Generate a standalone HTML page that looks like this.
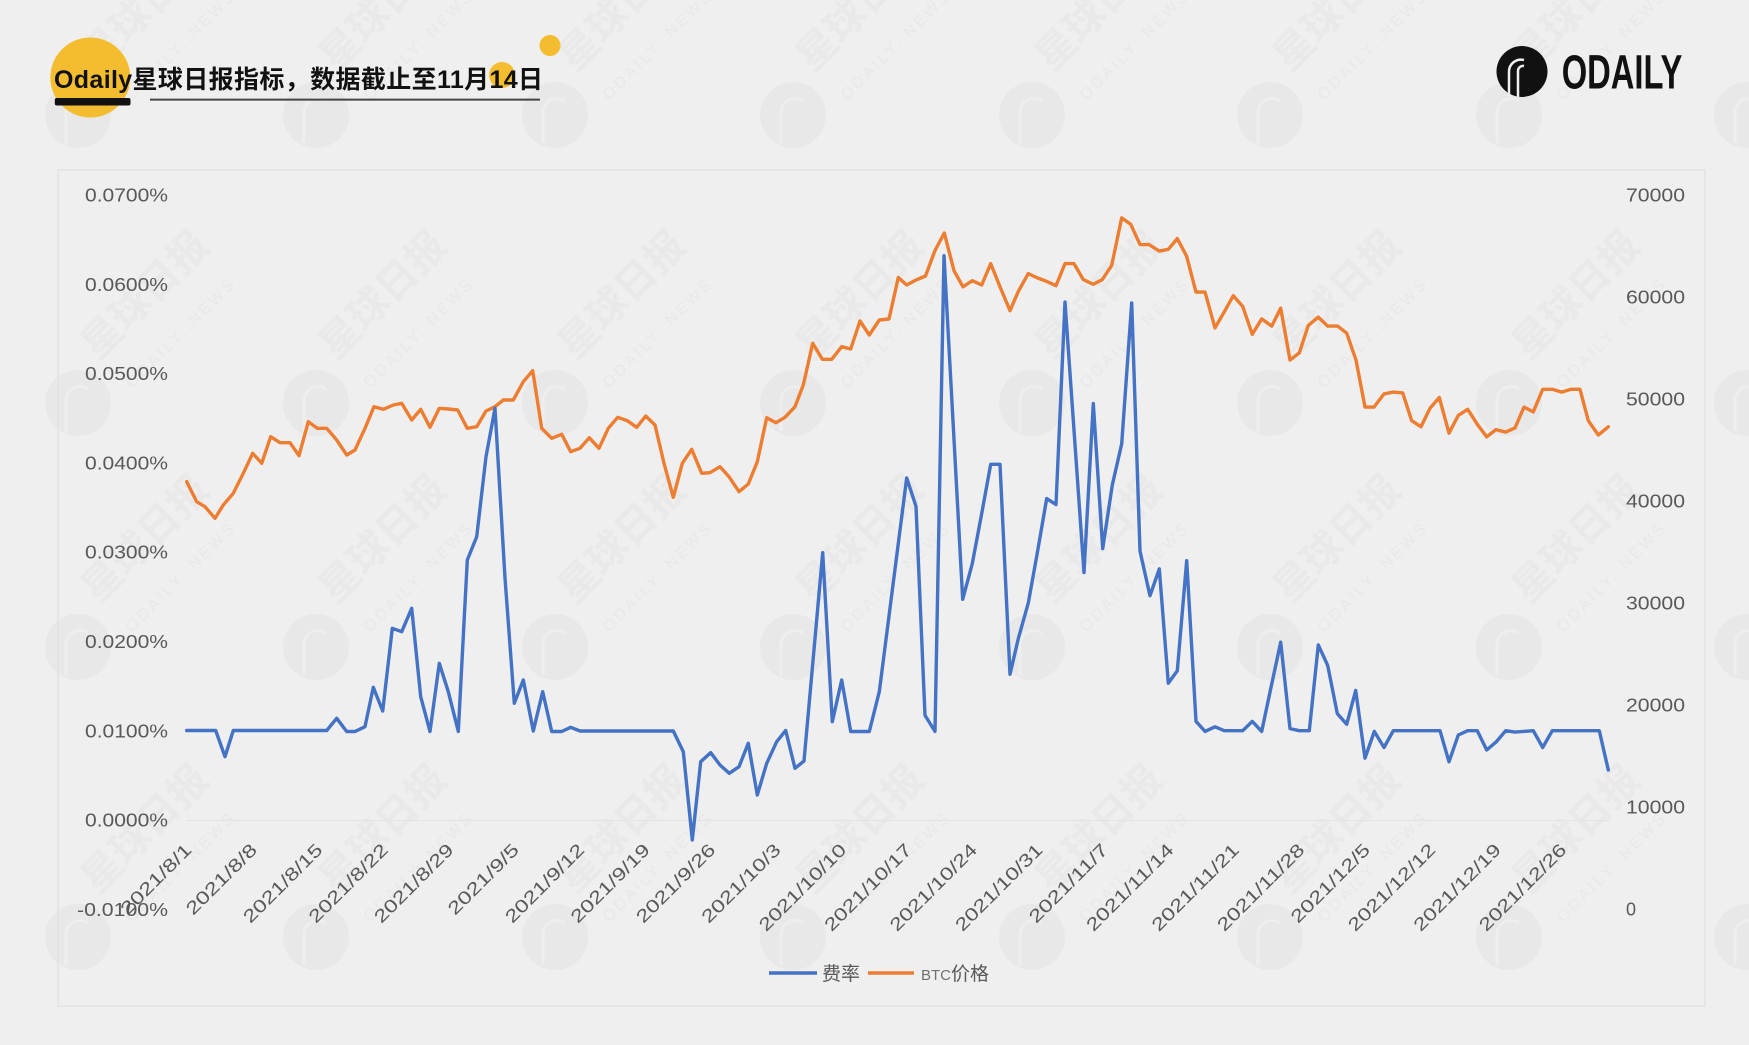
<!DOCTYPE html>
<html>
<head>
<meta charset="utf-8">
<style>
html,body{margin:0;padding:0;background:#EFEFEF;}
svg{display:block;}
</style>
</head>
<body>
<svg width="1749" height="1045" viewBox="0 0 1749 1045" xmlns="http://www.w3.org/2000/svg">
<rect x="0" y="0" width="1749" height="1045" fill="#EFEFEF"/>

<!-- watermarks -->
<defs>
<g id="wm">
  <circle cx="0" cy="0" r="33" fill="#E8E8E8"/>
  <path d="M-12 28 V-2 A14 14 0 0 1 10 -14" fill="none" stroke="#EEEEEE" stroke-width="3"/>
  <text transform="translate(20,-42) rotate(-45)" font-family="'Liberation Sans','Noto Sans CJK SC',sans-serif" font-weight="bold" font-size="40" fill="#E9E9E9">星球日报</text>
  <text transform="translate(54,-14) rotate(-45)" font-family="'Liberation Sans',sans-serif" font-size="16" fill="#E8E8E8" letter-spacing="3">ODAILY. NEWS</text>
</g>
</defs>
<g>
  <use href="#wm" x="78" y="115"/><use href="#wm" x="316" y="115"/><use href="#wm" x="555" y="115"/><use href="#wm" x="793" y="115"/><use href="#wm" x="1032" y="115"/><use href="#wm" x="1270" y="115"/><use href="#wm" x="1509" y="115"/><use href="#wm" x="1747" y="115"/>
  <use href="#wm" x="78" y="403"/><use href="#wm" x="316" y="403"/><use href="#wm" x="555" y="403"/><use href="#wm" x="793" y="403"/><use href="#wm" x="1032" y="403"/><use href="#wm" x="1270" y="403"/><use href="#wm" x="1509" y="403"/><use href="#wm" x="1747" y="403"/>
  <use href="#wm" x="78" y="647"/><use href="#wm" x="316" y="647"/><use href="#wm" x="555" y="647"/><use href="#wm" x="793" y="647"/><use href="#wm" x="1032" y="647"/><use href="#wm" x="1270" y="647"/><use href="#wm" x="1509" y="647"/><use href="#wm" x="1747" y="647"/>
  <use href="#wm" x="78" y="937"/><use href="#wm" x="316" y="937"/><use href="#wm" x="555" y="937"/><use href="#wm" x="793" y="937"/><use href="#wm" x="1032" y="937"/><use href="#wm" x="1270" y="937"/><use href="#wm" x="1509" y="937"/><use href="#wm" x="1747" y="937"/>
</g>

<!-- header -->
<circle cx="90.3" cy="77.5" r="40" fill="#F4BD30"/>
<circle cx="550" cy="45.5" r="10.5" fill="#F4BD30"/>
<circle cx="502" cy="75" r="13" fill="#F4BD30"/>
<rect x="54.8" y="98" width="75.7" height="7.5" rx="2" fill="#111"/>
<line x1="150" y1="99.6" x2="540" y2="99.6" stroke="#444" stroke-width="2"/>
<text x="54" y="88" font-family="'Liberation Sans','Noto Sans CJK SC',sans-serif" font-weight="bold" font-size="25" fill="#111" textLength="489" lengthAdjust="spacing">Odaily星球日报指标，数据截止至11月14日</text>

<!-- ODAILY logo -->
<circle cx="1522" cy="71.5" r="25.5" fill="#111"/>
<path d="M1509 96 V72 A12 12 0 0 1 1524 60" fill="none" stroke="#EFEFEF" stroke-width="2.5"/>
<path d="M1518 97 V71 A5 5 0 0 1 1524 66" fill="none" stroke="#EFEFEF" stroke-width="2.5"/>
<text x="1561.7" y="88.3" font-family="'Liberation Sans',sans-serif" font-weight="bold" font-size="48" fill="#111" textLength="120.6" lengthAdjust="spacingAndGlyphs">ODAILY</text>

<!-- chart frame -->
<rect x="58" y="170" width="1647" height="836" fill="none" stroke="#E2E2E2" stroke-width="1.5"/>
<line x1="186" y1="820.5" x2="1610" y2="820.5" stroke="#E4E4E4" stroke-width="1.2"/>

<!-- left axis labels -->
<g font-family="'Liberation Sans',sans-serif" font-size="18" fill="#595959" text-anchor="end">
  <text x="168" y="201.5" textLength="83" lengthAdjust="spacingAndGlyphs">0.0700%</text>
  <text x="168" y="290.8" textLength="83" lengthAdjust="spacingAndGlyphs">0.0600%</text>
  <text x="168" y="380.1" textLength="83" lengthAdjust="spacingAndGlyphs">0.0500%</text>
  <text x="168" y="469.4" textLength="83" lengthAdjust="spacingAndGlyphs">0.0400%</text>
  <text x="168" y="558.7" textLength="83" lengthAdjust="spacingAndGlyphs">0.0300%</text>
  <text x="168" y="648" textLength="83" lengthAdjust="spacingAndGlyphs">0.0200%</text>
  <text x="168" y="737.3" textLength="83" lengthAdjust="spacingAndGlyphs">0.0100%</text>
  <text x="168" y="826.6" textLength="83" lengthAdjust="spacingAndGlyphs">0.0000%</text>
  <text x="168" y="915.9" textLength="91" lengthAdjust="spacingAndGlyphs">-0.0100%</text>
</g>

<!-- right axis labels -->
<g font-family="'Liberation Sans',sans-serif" font-size="18" fill="#595959">
  <text x="1626" y="201.5" textLength="59" lengthAdjust="spacingAndGlyphs">70000</text>
  <text x="1626" y="303.5" textLength="59" lengthAdjust="spacingAndGlyphs">60000</text>
  <text x="1626" y="405.5" textLength="59" lengthAdjust="spacingAndGlyphs">50000</text>
  <text x="1626" y="507.5" textLength="59" lengthAdjust="spacingAndGlyphs">40000</text>
  <text x="1626" y="609.5" textLength="59" lengthAdjust="spacingAndGlyphs">30000</text>
  <text x="1626" y="711.5" textLength="59" lengthAdjust="spacingAndGlyphs">20000</text>
  <text x="1626" y="813.5" textLength="59" lengthAdjust="spacingAndGlyphs">10000</text>
  <text x="1626" y="915.5">0</text>
</g>

<!-- x axis labels -->
<g font-family="'Liberation Sans',sans-serif" font-size="18" fill="#595959" text-anchor="end">
  <text transform="translate(192.7,851) rotate(-45)" textLength="92" lengthAdjust="spacingAndGlyphs">2021/8/1</text>
  <text transform="translate(258.2,851) rotate(-45)" textLength="92" lengthAdjust="spacingAndGlyphs">2021/8/8</text>
  <text transform="translate(323.6,851) rotate(-45)" textLength="103.5" lengthAdjust="spacingAndGlyphs">2021/8/15</text>
  <text transform="translate(389.1,851) rotate(-45)" textLength="103.5" lengthAdjust="spacingAndGlyphs">2021/8/22</text>
  <text transform="translate(454.6,851) rotate(-45)" textLength="103.5" lengthAdjust="spacingAndGlyphs">2021/8/29</text>
  <text transform="translate(520.1,851) rotate(-45)" textLength="92" lengthAdjust="spacingAndGlyphs">2021/9/5</text>
  <text transform="translate(585.5,851) rotate(-45)" textLength="103.5" lengthAdjust="spacingAndGlyphs">2021/9/12</text>
  <text transform="translate(651,851) rotate(-45)" textLength="103.5" lengthAdjust="spacingAndGlyphs">2021/9/19</text>
  <text transform="translate(716.5,851) rotate(-45)" textLength="103.5" lengthAdjust="spacingAndGlyphs">2021/9/26</text>
  <text transform="translate(781.9,851) rotate(-45)" textLength="103.5" lengthAdjust="spacingAndGlyphs">2021/10/3</text>
  <text transform="translate(847.4,851) rotate(-45)" textLength="115" lengthAdjust="spacingAndGlyphs">2021/10/10</text>
  <text transform="translate(912.9,851) rotate(-45)" textLength="115" lengthAdjust="spacingAndGlyphs">2021/10/17</text>
  <text transform="translate(978.3,851) rotate(-45)" textLength="115" lengthAdjust="spacingAndGlyphs">2021/10/24</text>
  <text transform="translate(1043.8,851) rotate(-45)" textLength="115" lengthAdjust="spacingAndGlyphs">2021/10/31</text>
  <text transform="translate(1109.3,851) rotate(-45)" textLength="103.5" lengthAdjust="spacingAndGlyphs">2021/11/7</text>
  <text transform="translate(1174.8,851) rotate(-45)" textLength="115" lengthAdjust="spacingAndGlyphs">2021/11/14</text>
  <text transform="translate(1240.2,851) rotate(-45)" textLength="115" lengthAdjust="spacingAndGlyphs">2021/11/21</text>
  <text transform="translate(1305.7,851) rotate(-45)" textLength="115" lengthAdjust="spacingAndGlyphs">2021/11/28</text>
  <text transform="translate(1371.2,851) rotate(-45)" textLength="103.5" lengthAdjust="spacingAndGlyphs">2021/12/5</text>
  <text transform="translate(1436.6,851) rotate(-45)" textLength="115" lengthAdjust="spacingAndGlyphs">2021/12/12</text>
  <text transform="translate(1502.1,851) rotate(-45)" textLength="115" lengthAdjust="spacingAndGlyphs">2021/12/19</text>
  <text transform="translate(1567.6,851) rotate(-45)" textLength="115" lengthAdjust="spacingAndGlyphs">2021/12/26</text>
</g>

<!-- BTC price (orange) -->
<polyline fill="none" stroke="#ED7D31" stroke-width="3.4" stroke-linejoin="round" stroke-linecap="round" points="
186.7,481.7 196.7,501.7 205,506.7 215,518.3 223.3,505 233.3,493.3 243.3,473.3 252.7,453.3 261.7,463.3 270.7,436.7
280,442.7 290,442.7 299,455.7 308.3,421.7 317.3,428.3 326.7,428.3 336.7,440 346.7,455 355,450 365,428.3
374,406.7 383.3,409.3 393.3,405 401.7,403.3 411.7,420 420.7,409.3 430,427.3 439.3,408.3 448.3,409 457.7,410
467.3,428.3 476.7,426.7 486,411 495,406.7 503.3,400 513.3,400 523.3,381.7 532.7,370.7 541.7,428.3 551.7,438.3
561.7,434.3 570.7,451.7 580,448.3 589.3,437.7 599,448.3 608.3,428.3 617.7,417.3 627.3,420.7 636.7,427.3 645.7,416
655,425 664,463.3 673.3,497.3 682.3,463.3 691.7,449.3 701.7,473.3 710,472.7 720,466.7 729,476.7 739,491.7
748.3,484 757.3,461.7 766.7,417.7 776,422.7 785,417.3 795,406.7 803.3,385 812.7,343.3 822.3,359.3 831.7,359.3
841.7,346.7 850.7,349 860,321 869.3,335 879.3,320 889,319 898.3,277.5 906.7,285 916,280 925.5,276
935,250.5 944.3,233 954,270.7 963,286.8 972.3,280.7 981.7,285 990.7,263.6 1000,286.8 1010,310.7 1018.3,291.4
1028.3,273.6 1037.3,277.9 1046.7,281.4 1056,285.7 1065,263.6 1074,263.6 1083.3,279.6 1093.3,284.3 1102.3,279.6 1111.7,265.4
1121.7,217.9 1130.7,224.3 1140,244.6 1149,244.6 1159.3,251.1 1168.3,249.3 1177.3,238.6 1186.7,256.4 1196,292.1 1205,292.1
1215,327.9 1224.3,311.8 1233.3,295.7 1242.7,306.4 1252.3,334.3 1261.7,318.9 1271.7,326.1 1280.7,308.2 1290,360 1299.3,352.9
1308.3,325.4 1318.3,317.1 1327.7,326.1 1337.7,326.1 1346.7,333.2 1356,360 1365,407.1 1374,407.1 1384,393.9 1393.3,392.1
1402.7,392.9 1411.7,420.7 1421,426.8 1430,408.2 1439.3,397.5 1449,433.2 1458.3,415.4 1467.7,409.3 1477.3,424.3 1486.7,436.8
1496,429.6 1505.7,432.1 1515,427.9 1524,407.1 1533.3,411.8 1542.7,389.3 1552.3,389.3 1561.7,392.1 1571,389.3 1580,389.3
1588.3,420.7 1598.3,435 1608.3,426.8"/>

<!-- funding rate (blue) -->
<polyline fill="none" stroke="#4472C4" stroke-width="3.4" stroke-linejoin="round" stroke-linecap="round" points="
186.7,730.5 215.7,730.5 225,756.7 233.3,730.5 326.7,730.5 336.7,718.3 346.7,731.5 355,731.5 365,726.7 373.3,687.3
382.7,711 392.3,628.3 401.7,631.7 411.7,608.3 420.7,696.7 430,731.5 439.3,663.3 448.3,691.7 458.3,731.5 467.3,560
476.7,536.7 486,456.7 495,408.3 505,578 514.3,703.3 523.3,680 533.3,731 542.7,691.7 551.7,731.5 561.7,731.5
570.7,727.3 580,731 673.3,731 683.3,751.7 692.3,840 700.7,761.7 710.7,752.7 720,765 729.3,773.3 739,766.7
748.3,743.3 757.3,795 766.7,763.3 776.7,741.7 785.7,730.5 795,768.3 804,761 822.7,552.7 832.3,721.7 841.7,680
850.7,731.5 869.3,731.5 879.3,691.7 906.7,477.9 916,506.4 925,715.4 935,731.4 944,255.7 962.7,599.3 972.3,563.6
981.7,513.6 990.7,464.3 1000,464.3 1010,674.3 1018.3,638.6 1028.3,602.9 1037.3,552.9 1046.7,498.6 1056,504.6 1065,302.1
1084,572.5 1093.3,403.6 1102.7,548.6 1112.3,485 1121.7,443.9 1131.7,302.9 1140,551.1 1150,595.7 1159.3,568.9 1168.3,683.2
1177.3,670.7 1186.7,560.7 1196,721.4 1205,731.4 1215,726.8 1224.3,730.7 1242.7,730.7 1252.3,721.4 1261.7,731.4 1270,692.1
1280.7,642.1 1290,728.6 1299.3,730.7 1309.3,730.7 1318.3,645 1327.7,665.4 1337.3,713.6 1346.7,724.3 1355.7,690.4 1365,758.2
1374.3,731.4 1384,747.5 1393.3,730.7 1440,730.7 1449,761.8 1458.3,735 1467.7,730.7 1477.3,730.7 1486.7,750 1496,742.1
1505.7,730.7 1515,732.1 1533.3,730.7 1542.7,747.5 1552.3,730.7 1599.3,730.7 1608.3,770"/>

<!-- legend -->
<line x1="769" y1="973" x2="817" y2="973" stroke="#4472C4" stroke-width="3.5"/>
<text x="822" y="980" font-family="'Liberation Sans','Noto Sans CJK SC',sans-serif" font-size="19" fill="#595959">费率</text>
<line x1="868" y1="973" x2="914" y2="973" stroke="#ED7D31" stroke-width="3.5"/>
<text x="921" y="980" font-family="'Liberation Sans','Noto Sans CJK SC',sans-serif" font-size="19" fill="#595959"><tspan font-size="15" fill="#707070">BTC</tspan>价格</text>
</svg>
</body>
</html>
